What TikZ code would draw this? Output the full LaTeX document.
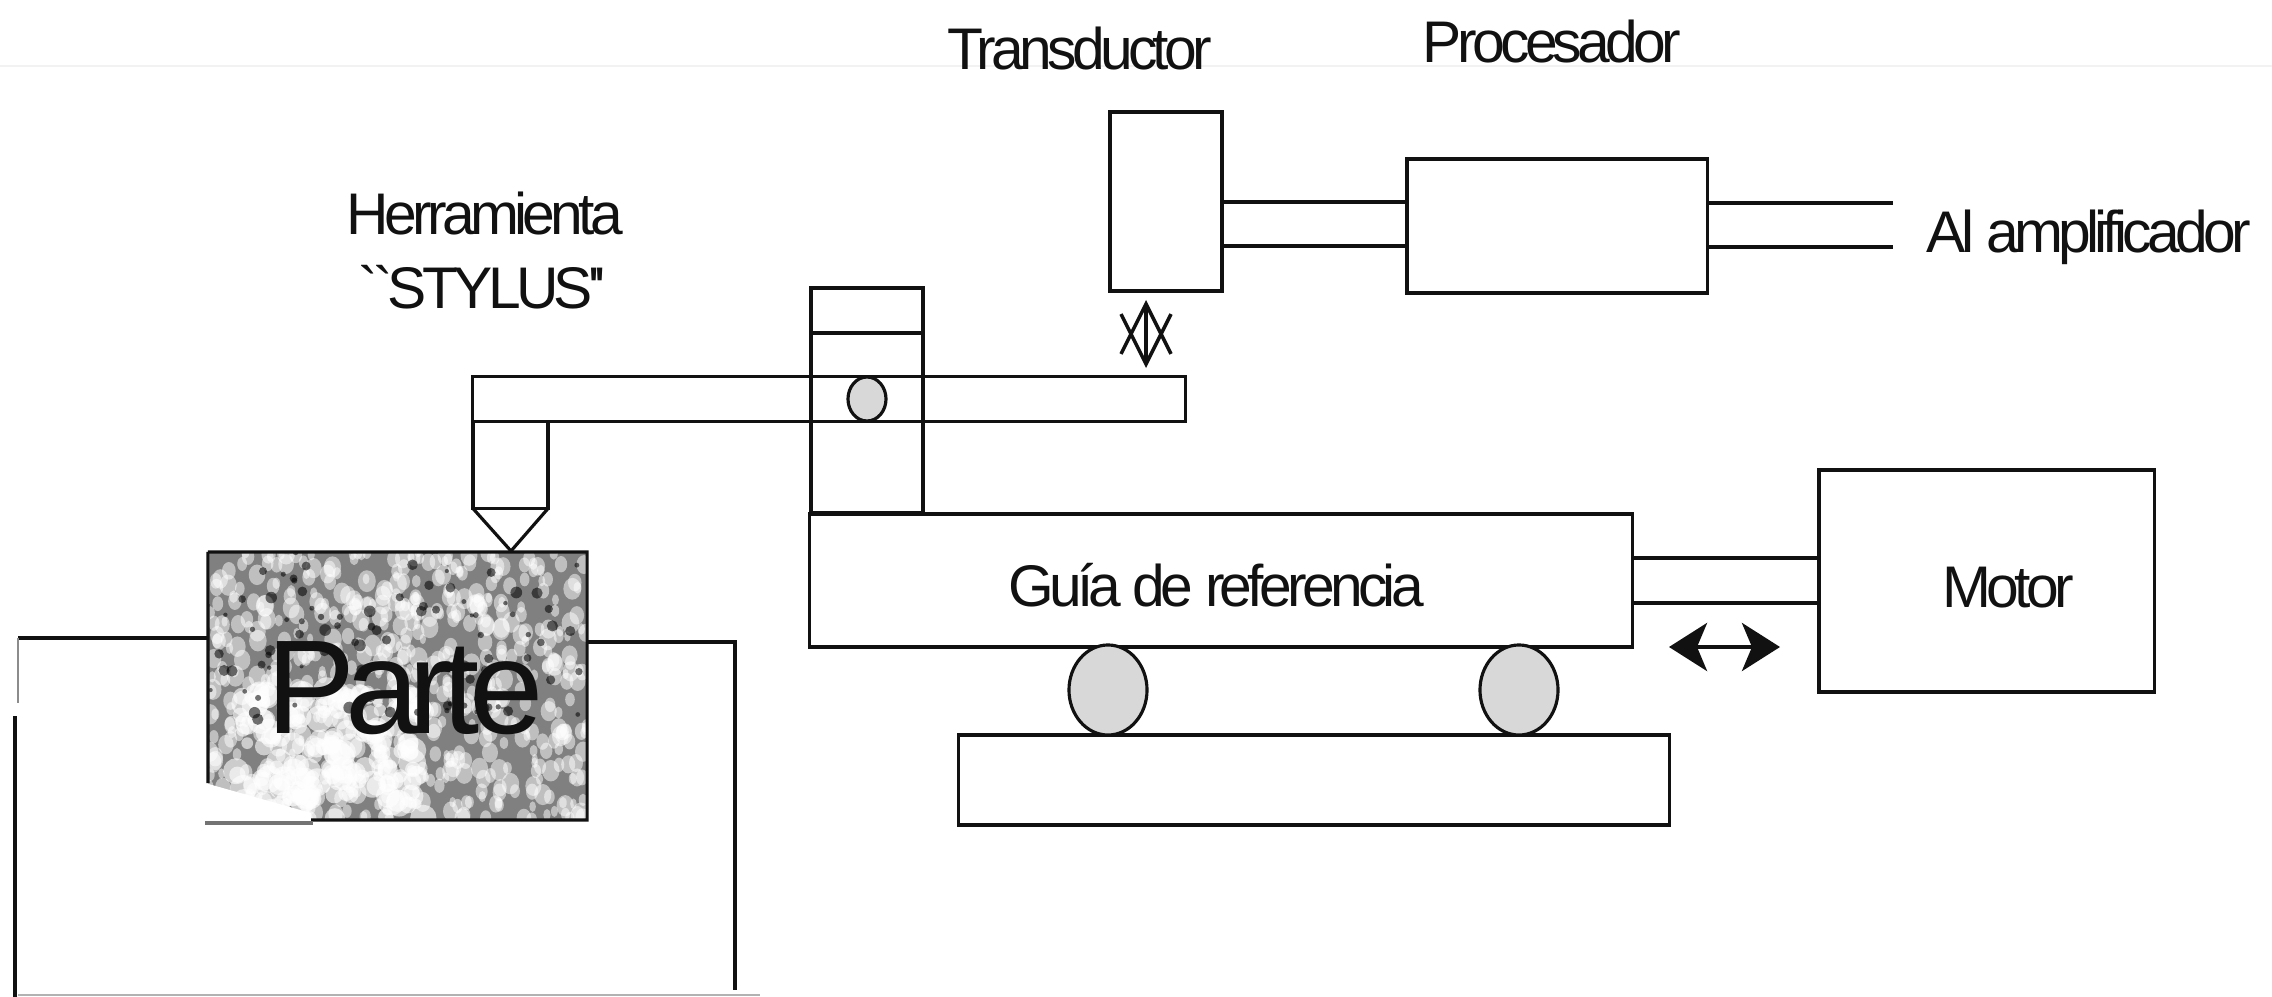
\documentclass[tikz,border=0pt]{standalone}
\usepackage{xcolor}
\usepackage{fontspec}
\setmainfont{Liberation Sans}
\usetikzlibrary{arrows.meta,shapes.geometric}
\definecolor{ink}{HTML}{111111}
\definecolor{rueda}{HTML}{D8D8D8}
\newfontfamily\apretada[LetterSpace=-8]{Liberation Sans}
\begin{document}
\begin{tikzpicture}[x=0.01cm, y=-0.01cm,
    caja/.style={draw=ink, line width=0.9pt, inner sep=0pt, outer sep=0pt},
    rotulo/.style={ink, anchor=base, inner sep=0pt, font=\fontsize{16.7}{20}\apretada},
    alambre/.style={ink, line width=1.2pt},
    trazo/.style={ink, line width=0.9pt}]
    \useasboundingbox (0,0) rectangle (2272,997);
    % Scan marks along the top and bottom edges.
    \draw[black!5, line width=0.5pt] (0,66) -- (2272,66);
    \draw[black!30, line width=0.5pt] (18,995) -- (760,995);
    % Mottled surface of the part.
    \begin{scope}
      \clip (208,552) rectangle (587,820);
      \fill[black!50] (208,552) rectangle (587,820);
      \pgfmathsetseed{11}
      \foreach \i in {1,...,620} {
        \pgfmathsetmacro{\px}{208+379*rnd}
        \pgfmathsetmacro{\py}{552+268*rnd}
        \pgfmathsetmacro{\pr}{3+6*rnd}
        \fill[white, opacity=0.5] (\px,\py) ellipse ({\pr*0.01cm} and {(\pr+2)*0.01cm});
      }
      \foreach \i in {1,...,170} {
        \pgfmathsetmacro{\px}{235+190*rnd}
        \pgfmathsetmacro{\py}{690+130*rnd}
        \pgfmathsetmacro{\pr}{5+9*rnd}
        \fill[white, opacity=0.6] (\px,\py) circle ({\pr*0.01cm});
      }
      \foreach \i in {1,...,90} {
        \pgfmathsetmacro{\px}{208+379*rnd}
        \pgfmathsetmacro{\py}{552+170*rnd}
        \pgfmathsetmacro{\pr}{2+4*rnd}
        \fill[black, opacity=0.55] (\px,\py) circle ({\pr*0.01cm});
      }
      % Torn corner.
      \fill[white] (205,783) -- (311,813) -- (311,825) -- (205,825) -- cycle;
    \end{scope}
    % The part and the table under it.
    \node[caja, draw=none, minimum width=3.79cm, minimum height=2.68cm] (parte) at (397.5,686) {};
    \draw[trazo] (parte.north west) -- (parte.north east) -- (parte.south east) -- (311,820);
    \draw[trazo] (parte.north west) -- (208,783);
    \draw[black!55, line width=0.9pt] (205,823) -- (313,823);
    \node[ink, anchor=base, inner sep=0pt, font=\fontsize{38}{40}\apretada] (partelbl) at (405,733) {Parte};
    \coordinate (mesaA) at (18,638);
    \coordinate (mesaB) at (735,642);
    \draw[trazo] (mesaA) -- (mesaA -| parte.west);
    \draw[black!45, line width=0.7pt] (mesaA) -- (18,703);
    \draw[trazo] (15,716) -- (15,997);
    \draw[trazo] (mesaB -| parte.east) -- (mesaB) -- (735,990);
    % Stylus arm, shank and point.
    \node[caja, minimum width=7.12cm, minimum height=0.45cm] (brazo) at (829,399) {};
    \node[caja, minimum width=0.75cm, minimum height=0.87cm] (vastago) at (510.5,465) {};
    \coordinate (punta) at (511,551);
    \draw[trazo, line join=round] (vastago.south west) -- (punta) -- (vastago.south east);
    \node[rotulo] (herr) at (485,235) {Herramienta};
    \node[rotulo] (stylus) at (482,308) {``STYLUS''};
    % Pillar and pivot.
    \node[caja, minimum width=1.12cm, minimum height=2.25cm] (columna) at (867,400.5) {};
    \coordinate (corte) at (811,333);
    \draw[trazo] (corte) -- (corte -| columna.east);
    \node[caja, ellipse, fill=rueda, minimum width=0.38cm, minimum height=0.44cm] (pivote) at (867,399) {};
    % Transducer, processor and their wires.
    \node[caja, minimum width=1.12cm, minimum height=1.79cm] (tran) at (1166,201.5) {};
    \node[caja, minimum width=3cm, minimum height=1.34cm] (proc) at (1557,226) {};
    \coordinate (hiloA) at (1300,202);
    \coordinate (hiloB) at (1300,246);
    \coordinate (salA) at (1893,203);
    \coordinate (salB) at (1893,247);
    \draw[alambre] (tran.east |- hiloA) -- (proc.west |- hiloA);
    \draw[alambre] (tran.east |- hiloB) -- (proc.west |- hiloB);
    \draw[alambre] (proc.east |- salA) -- (salA);
    \draw[alambre] (proc.east |- salB) -- (salB);
    \node[rotulo] (tranlbl) at (1080,70) {Transductor};
    \node[rotulo] (proclbl) at (1552,63) {Procesador};
    \node[rotulo] (amplbl) at (2089,252) {Al amplificador};
    % Gap arrow.
    \coordinate (gapA) at (1146,300);
    \coordinate (gapB) at (1146,368);
    \draw[ink, line width=1pt, {Straight Barb[length=0.5cm, width=0.5cm]}-{Straight Barb[length=0.5cm, width=0.5cm]}] (gapA) -- (gapB);
    % Reference guide, wheels and base.
    \node[caja, minimum width=8.22cm, minimum height=1.33cm] (guia) at (1221,580.5) {};
    \node[rotulo] (guialbl) at (1216,606) {Guía de referencia};
    \node[caja, minimum width=7.1cm, minimum height=0.9cm] (base) at (1314,780) {};
    \node[caja, ellipse, fill=rueda, minimum width=0.78cm, minimum height=0.9cm] (ruedaA) at (1108,690) {};
    \node[caja, ellipse, fill=rueda, minimum width=0.78cm, minimum height=0.9cm] (ruedaB) at (1519,690) {};
    % Motor, rod and travel arrow.
    \node[caja, minimum width=3.35cm, minimum height=2.22cm] (motor) at (1986.5,581) {};
    \node[rotulo] (motorlbl) at (2008,607) {Motor};
    \coordinate (varA) at (1700,558);
    \coordinate (varB) at (1700,603);
    \draw[alambre] (guia.east |- varA) -- (motor.west |- varA);
    \draw[alambre] (guia.east |- varB) -- (motor.west |- varB);
    \coordinate (vaiA) at (1669,647);
    \coordinate (vaiB) at (1780,647);
    \draw[ink, line width=1.2pt, {Stealth[length=0.38cm, width=0.48cm, inset=0.1cm]}-{Stealth[length=0.38cm, width=0.48cm, inset=0.1cm]}] (vaiA) -- (vaiB);
  \end{tikzpicture}
\end{document}
